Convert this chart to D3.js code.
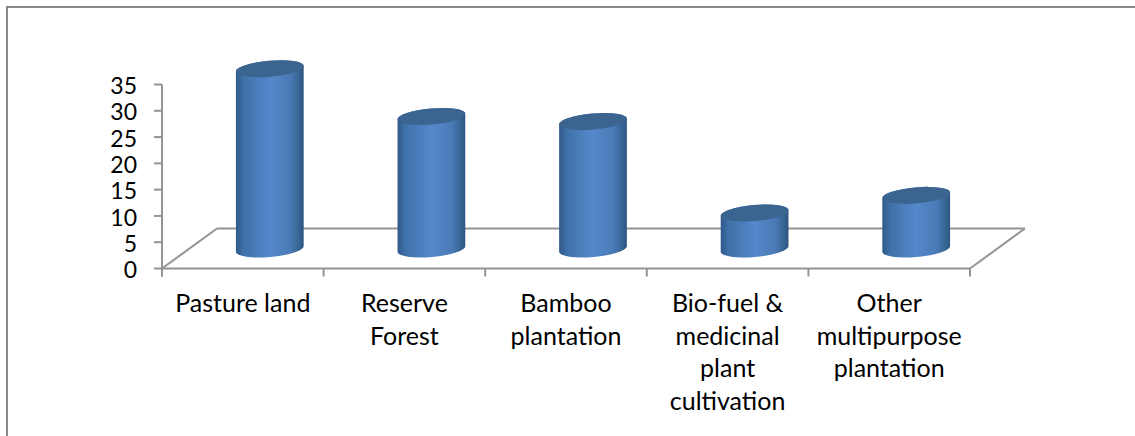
<!DOCTYPE html>
<html><head><meta charset="utf-8">
<script src="https://cdn.jsdelivr.net/npm/d3@7/dist/d3.min.js"></script>
<style>html,body{margin:0;background:#fff}svg{display:block}text{font-family:Lato,"Open Sans",sans-serif;fill:#000}</style>
</head><body><svg id="c" width="1135" height="436"></svg>
<script>
const categories=[["Pasture land"],["Reserve","Forest"],["Bamboo","plantation"],["Bio-fuel &","medicinal","plant","cultivation"],["Other","multipurpose","plantation"]];
const values=[34.3,25.2,24.25,6.85,10.2];
const yTicks=[0,5,10,15,20,25,30,35];
const svg=d3.select("#c");
const y=d3.scaleLinear().domain([0,35]).range([268.5,84.5]);
const x=d3.scaleBand().domain(d3.range(5)).range([162,970]);
const grey="#949494";
const line=(a,b,c,d,w=2)=>svg.append("line").attr("x1",a).attr("y1",b).attr("x2",c).attr("y2",d).attr("stroke",grey).attr("stroke-width",w);
// frame: top and left edges only
svg.append("path").attr("d","M7,436V7H1135").attr("fill","none").attr("stroke","#888").attr("stroke-width",2);
const grad=svg.append("defs").append("linearGradient").attr("id","g");
[[0,"#30598a"],[.12,"#3f72a9"],[.5,"#5588cb"],[.8,"#4a7bb6"],[.95,"#33618f"],[1,"#2c5580"]].forEach(s=>grad.append("stop").attr("offset",s[0]).attr("stop-color",s[1]));
// floor
const dx=55,dy=-40,y0=y(0),xl=x.range()[0],xr=x.range()[1];
line(xl,y0,xl+dx,y0+dy);line(xl+dx,y0+dy,xr+dx,y0+dy);line(xr,y0,xr+dx,y0+dy);line(xl,y0,xr,y0);
// y axis
line(xl,y(35),xl,y0+8);
yTicks.forEach(t=>{line(xl-8,y(t),xl,y(t));
 svg.append("text").attr("x",137).attr("y",y(t)+9.7).attr("text-anchor","end").attr("font-size",23).text(t);});
// x ticks
d3.range(6).forEach(i=>{const p=i<5?x(i):xr;line(p,y0,p,y0+8);});
// bars
const rx=34,ry=8,rot=-5,by=249;
const rad=rot*Math.PI/180,ex=rx*Math.cos(rad),ey=rx*Math.sin(rad);
values.forEach((v,i)=>{
 const cx=x(i)+x.bandwidth()/2+27, h=y(0)-y(v), ty=by-h;
 const g=svg.append("g");
 g.append("path").attr("fill","url(#g)")
  .attr("d",`M${cx-ex},${ty-ey}A${rx},${ry} ${rot} 0 1 ${cx+ex},${ty+ey}L${cx+ex},${by+ey}A${rx},${ry} ${rot} 0 1 ${cx-ex},${by-ey}Z`);
 g.append("ellipse").attr("cx",cx).attr("cy",ty).attr("rx",rx).attr("ry",ry).attr("transform",`rotate(${rot} ${cx} ${ty})`).attr("fill","#3c6490");
});
// labels
categories.forEach((c,i)=>{const t=svg.append("text").attr("text-anchor","middle").attr("font-size",25);
 c.forEach((s,j)=>t.append("tspan").attr("x",x(i)+x.bandwidth()/2).attr("y",312+j*32.7).text(s));});
</script></body></html>
